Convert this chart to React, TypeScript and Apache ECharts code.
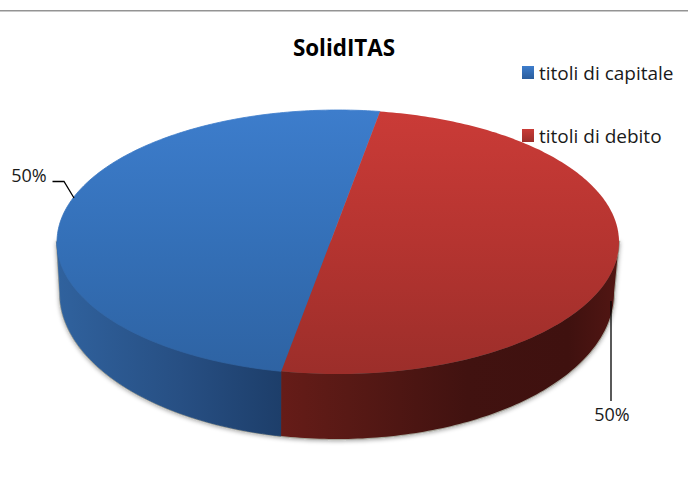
import React, { useEffect, useRef } from "react";
import * as echarts from "echarts";

const chartTitle = "SolidITAS";
const categories = ["titoli di capitale", "titoli di debito"];
const shares = [50, 50];

const topStops = [
  [[0, "#3d7dcc"], [0.5, "#3470b8"], [1, "#2e63a3"]],
  [[0, "#ca3b37"], [0.5, "#b53430"], [1, "#9c2e2a"]],
];
const wallStops = [
  [[0, "#30629e"], [0.55, "#274f83"], [1, "#1d3e6a"]],
  [[0, "#661c18"], [0.2, "#581915"], [0.55, "#411210"], [0.85, "#3f110f"], [1, "#521613"]],
];
const legendStops = [
  [[0, "#3d7dcc"], [1, "#2a5c9c"]],
  [[0, "#ca3b37"], [1, "#9c2e2a"]],
];

const TOP = { cx: 338, cy: 242, rx: 281, ry: 132 };
const BOTTOM = { cx: 337, cy: 293, rx: 277, ry: 146 };
const APEX_SHIFT = 0.1515;
const START_ANGLE = 100;
const leaders = [
  [[52.5, 181.5], [64, 181.5], [74, 198]],
  [[611, 301], [611, 401]],
];
const labelSpots = [
  [29, 174.5],
  [612, 414],
];
const FONT = '"Open Sans", sans-serif';

const rad = (d: number) => (d * Math.PI) / 180;

// Perspective map of a true-disc angle onto the unit circle of the drawn ellipse.
function project(theta: number) {
  const u = Math.cos(rad(theta));
  const v = Math.sin(rad(theta));
  const den = 1 - APEX_SHIFT * v;
  return {
    x: (u * Math.sqrt(1 - APEX_SHIFT * APEX_SHIFT)) / den,
    y: (v - APEX_SHIFT) / den,
  };
}
const onEllipse = (e: typeof TOP, t: number) => [e.cx + e.rx * Math.cos(rad(t)), e.cy + e.ry * Math.sin(rad(t))];
const screenAngle = (theta: number) => {
  const p = project(theta);
  let t = (Math.atan2(p.y, p.x) * 180) / Math.PI;
  while (t < theta - 90) t += 360;
  while (t > theta + 90) t -= 360;
  return t;
};

function toPath(points: number[][]) {
  return points.map((p, i) => `${i ? "L" : "M"}${p[0].toFixed(2)} ${p[1].toFixed(2)}`).join(" ") + " Z";
}

function sliceAngles(index: number) {
  const total = shares.reduce((a, b) => a + b, 0);
  let from = START_ANGLE;
  for (let i = 0; i < index; i++) from += (shares[i] / total) * 360;
  return [from, from + (shares[index] / total) * 360];
}

function topPath(a0: number, a1: number) {
  const pts: number[][] = [[TOP.cx, TOP.cy - APEX_SHIFT * TOP.ry]];
  const n = Math.ceil(Math.abs(a1 - a0));
  for (let i = 0; i <= n; i++) {
    const p = project(a0 + ((a1 - a0) * i) / n);
    pts.push([TOP.cx + TOP.rx * p.x, TOP.cy + TOP.ry * p.y]);
  }
  return toPath(pts);
}

function wallPath(a0: number, a1: number) {
  const s = screenAngle(a0);
  const e = screenAngle(a1);
  for (const k of [-360, 0, 360]) {
    const lo = Math.max(s, k);
    const hi = Math.min(e, k + 180);
    if (hi > lo) {
      const n = Math.ceil(hi - lo);
      const upper: number[][] = [];
      const lower: number[][] = [];
      for (let i = 0; i <= n; i++) {
        const t = lo + ((hi - lo) * i) / n;
        upper.push(onEllipse(TOP, t));
        lower.unshift(onEllipse(BOTTOM, t));
      }
      return toPath(upper.concat(lower));
    }
  }
  return "";
}

const gradient = (stops: any[], vertical: boolean) =>
  new echarts.graphic.LinearGradient(0, 0, vertical ? 0 : 1, vertical ? 1 : 0,
    stops.map((s) => ({ offset: s[0], color: s[1] })));

function renderSlice(index: number) {
  return (_: any, api: any) => {
    const [a0, a1] = sliceAngles(index);
    const wall = wallPath(a0, a1);
    const children: any[] = [];
    if (wall) {
      const fill = gradient(wallStops[index], false);
      children.push({
        type: "path",
        shape: { pathData: wall },
        style: { fill, stroke: index === 0 ? fill : "none", lineWidth: 0.8 },
      });
    }
    const topFill = gradient(topStops[index], true);
    children.push({
      type: "path",
      shape: { pathData: topPath(a0, a1) },
      style: { fill: topFill, stroke: index === 0 ? topFill : "none", lineWidth: 0.8 },
    });
    children.push({
      type: "polyline",
      shape: { points: leaders[index] },
      style: { fill: "none", stroke: "#000000", lineWidth: 1.3 },
    });
    children.push({
      type: "text",
      style: {
        text: `${api.value(0)}%`,
        x: labelSpots[index][0],
        y: labelSpots[index][1],
        align: "center",
        verticalAlign: "middle",
        font: `18px ${FONT}`,
        fill: "#1a1a1a",
      },
    });
    return { type: "group", children };
  };
}

function renderShadow() {
  const pts: number[][] = [];
  for (let t = 0; t <= 180; t++) pts.push(onEllipse(BOTTOM, t));
  pts.push(onEllipse(TOP, 180));
  pts.push(onEllipse(TOP, 0));
  return {
    type: "path",
    shape: { pathData: toPath(pts) },
    style: {
      fill: "#555555",
      stroke: "#a8a89e",
      lineWidth: 2.4,
      shadowBlur: 4,
      shadowColor: "rgba(0,0,0,0.35)",
      shadowOffsetX: 0,
      shadowOffsetY: 1,
    },
  };
}

export default function App() {
  const ref = useRef<HTMLDivElement>(null);
  useEffect(() => {
    document.body.style.margin = "0";
    const chart = echarts.init(ref.current!, null, { renderer: "svg" });
    chart.setOption({
      animation: false,
      backgroundColor: "#ffffff",
      title: {
        text: chartTitle,
        left: 344,
        top: 36,
        padding: 0,
        textAlign: "center",
        textStyle: { fontFamily: FONT, fontSize: 22.4, fontWeight: "bold", color: "#000000" },
      },
      legend: {
        orient: "vertical",
        left: 522,
        top: 63,
        padding: 0,
        itemWidth: 12,
        itemHeight: 13,
        itemGap: 44,
        icon: "rect",
        selectedMode: false,
        textStyle: { fontFamily: FONT, fontSize: 19, color: "#1a1a1a", padding: [0, 0, 0, 0] },
        data: categories.map((name, i) => ({ name, itemStyle: { color: gradient(legendStops[i], true) } })),
      },
      graphic: [
        { type: "rect", shape: { x: 0, y: 10, width: 688, height: 1.6 }, style: { fill: "#949494" }, silent: true },
      ],
      series: [
        { type: "custom", name: "shadow", coordinateSystem: "none", silent: true, data: [[0]], renderItem: renderShadow, z: 1 },
        ...categories.map((name, i) => ({
          type: "custom",
          name,
          coordinateSystem: "none",
          data: [[shares[i]]],
          renderItem: renderSlice(i),
          z: 2,
          itemStyle: { color: legendStops[i][0][1] },
        })),
      ],
    });
    return () => chart.dispose();
  }, []);
  return <div ref={ref} style={{ width: 688, height: 502 }} />;
}
